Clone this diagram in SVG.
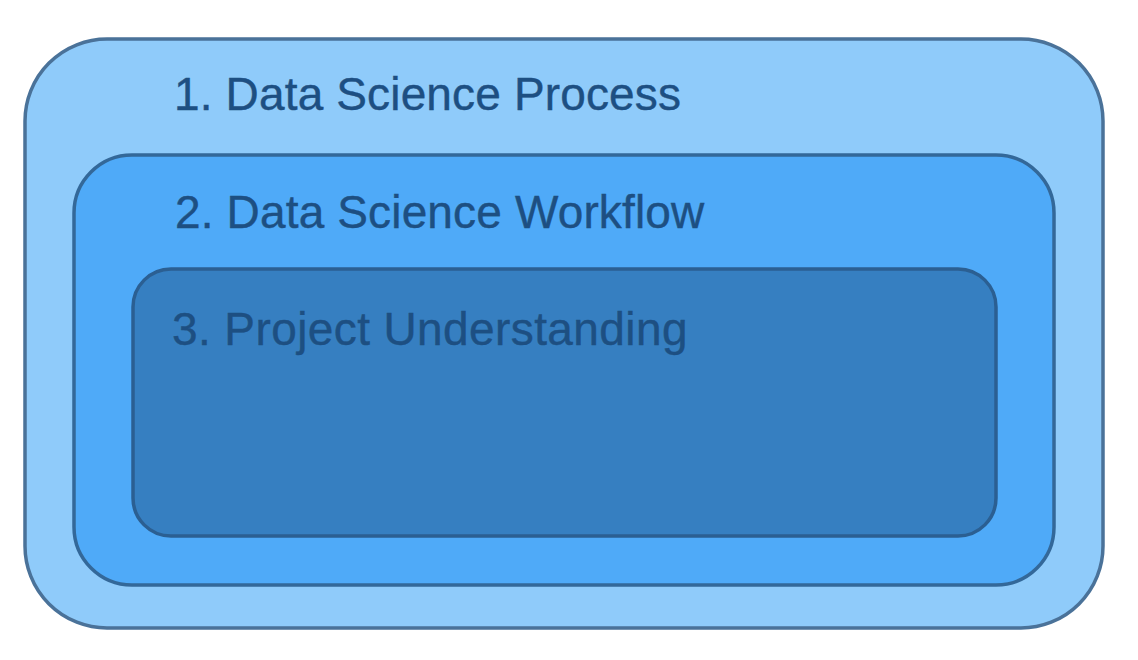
<svg xmlns="http://www.w3.org/2000/svg" width="1138" height="660" viewBox="0 0 1138 660">
  <style>
    .box { stroke-width: 3.5; }
    .label { font-family: "Liberation Sans", Arial, Helvetica, sans-serif; font-size: 46px; fill: #1d4f82; stroke: #1d4f82; stroke-width: 0.4px; }
  </style>
  <rect x="0" y="0" width="1138" height="660" fill="#ffffff"/>
  <g id="node-process">
    <rect class="box" x="25" y="39" width="1078" height="589" rx="82" ry="82" fill="#8fcbfa" stroke="#4a7299"/>
    <text class="label" x="174" y="110" letter-spacing="0.15">1. Data Science Process</text>
  </g>
  <g id="node-workflow">
    <rect class="box" x="74" y="155" width="980" height="430" rx="58" ry="58" fill="#4faaf8" stroke="#336899"/>
    <text class="label" x="175" y="228" letter-spacing="0.15">2. Data Science Workflow</text>
  </g>
  <g id="node-project">
    <rect class="box" x="133" y="269" width="863" height="267" rx="38" ry="38" fill="#367fc1" stroke="#2b5f92"/>
    <text class="label" x="172" y="345" letter-spacing="0.4">3. Project Understanding</text>
  </g>
  <g id="connectors"></g>
</svg>
